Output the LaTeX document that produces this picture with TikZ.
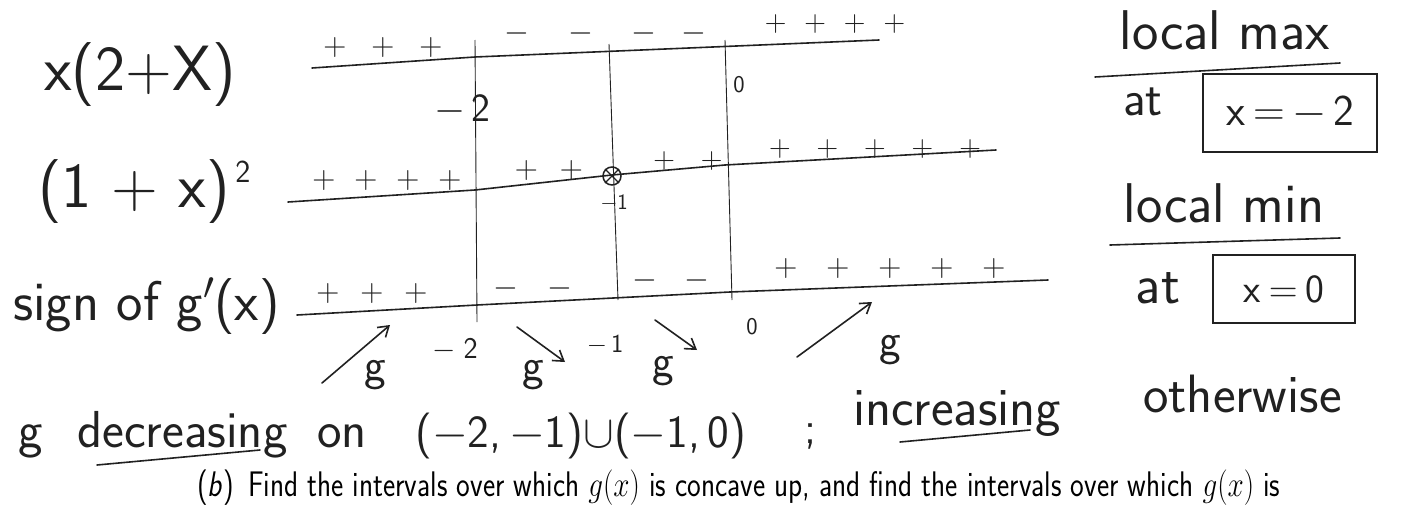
\RequirePackage{fix-cm}
\documentclass[tikz,border=0pt]{standalone}
\usepackage{fontspec}
\usepackage{graphicx}
\usetikzlibrary{arrows.meta}
\definecolor{ink}{gray}{0.13}
\newcommand\Pl{\ensuremath{{+}}}
\newcommand\Mi{\ensuremath{{-}}}
\newcommand\gp[1]{\hspace{#1pt}}
\tikzset{
  hf/.style={font=\sffamily\fontsize{#1}{#1}\selectfont, inner sep=0pt, text=ink},
  stroke/.style={draw=ink, line width=1.6pt, line cap=round, line join=round},
  rule/.style={draw=ink, line width=0.9pt},
  arr/.style={stroke, -{Straight Barb[length=10pt,width=13pt]}},
  ansbox/.style={draw=ink, line width=1.5pt, inner sep=0pt},
}
\begin{document}
\begin{tikzpicture}[x=1pt,y=-1pt]
\useasboundingbox (0,0) rectangle (1402,506);
\fill[white] (0,0) rectangle (1402,506);

% ---- row labels
\node[hf=64] (lab1) at (140,75) {x(2+X)};
\node[hf=64] (lab2) at (134,192) {(1 + x)};
\node[hf=32] (lab2s) at (243,172) {2};
\node[hf=56, anchor=base west] (lab3) at (13,320) {sign of g$'$(x)};

% ---- sign lines
\coordinate (r1a) at (312,68); \coordinate (r1m) at (475,57); \coordinate (r1b) at (879,40);
\draw[stroke] (r1a) -- (r1m) -- (r1b);
\coordinate (r2a) at (288,202); \coordinate (r2m) at (475,190); \coordinate (r2n) at (612,175);
\coordinate (r2o) at (725,165); \coordinate (r2b) at (996,150);
\draw[stroke] (r2a) -- (r2m) -- (r2n) -- (r2o) -- (r2b);
\coordinate (r3a) at (297,315); \coordinate (r3m) at (477,305); \coordinate (r3n) at (730,292); \coordinate (r3b) at (1048,280);
\draw[stroke] (r3a) -- (r3m) -- (r3n) -- (r3b);

% ---- vertical separators
\coordinate (v1t) at (475,40);  \coordinate (v1b) at (477,322);
\coordinate (v2t) at (609,44);  \coordinate (v2b) at (618,300);
\coordinate (v3t) at (725,40);  \coordinate (v3b) at (732,300);
\draw[rule] (v1t) -- (v1b);
\draw[rule] (v2t) -- (v2b);
\draw[rule] (v3t) -- (v3b);

% ---- signs row 1
\node[hf=32] (s11) at (383,48) {\Pl\gp{25}\Pl\gp{25}\Pl};
\node[hf=32] (s12) at (549,33) {\Mi\gp{40}\Mi};
\node[hf=32] (s13) at (669,33) {\Mi\gp{26}\Mi};
\node[hf=30] (s14) at (835,24) {\Pl\gp{18}\Pl\gp{18}\Pl\gp{18}\Pl};
\node[hf=40] (m2) at (462,110) {\Mi\gp{6}2};
\node[hf=24] (z1) at (739,85) {0};

% ---- signs row 2
\node[hf=32] (s21) at (387,180) {\Pl\gp{19}\Pl\gp{19}\Pl\gp{19}\Pl};
\node[hf=32] (s22) at (549,170) {\Pl\gp{22}\Pl};
\node[hf=30] (s23) at (688,161) {\Pl\gp{26}\Pl};
\node[hf=30] (s24) at (875,149) {\Pl\gp{26}\Pl\gp{26}\Pl\gp{26}\Pl\gp{26}\Pl};
\node[circle, draw=ink, line width=1.5pt, minimum size=18pt, inner sep=0pt] (crit) at (612,176) {};
\draw[draw=ink, line width=1.3pt] (crit.north west) -- (crit.south east) (crit.north east) -- (crit.south west);
\node[hf=22] (m1) at (614,203) {\Mi1};

% ---- signs row 3
\node[hf=32] (s31) at (372,293) {\Pl\gp{21}\Pl\gp{21}\Pl};
\node[hf=32] (s32) at (533,288) {\Mi\gp{30}\Mi};
\node[hf=32] (s33) at (671,280) {\Mi\gp{27}\Mi};
\node[hf=32] (s34) at (890,268) {\Pl\gp{29}\Pl\gp{29}\Pl\gp{29}\Pl\gp{29}\Pl};

% ---- behaviour of g below row 3
\node[hf=30] (b2) at (455,350) {\Mi\gp{8}2};
\node[hf=26] (b1) at (605,345) {\Mi\gp{4}1};
\node[hf=24] (b0) at (752,327) {0};
\node[hf=46] (g1) at (375,375) {g};
\node[hf=46] (g2) at (533,375) {g};
\node[hf=46] (g3) at (663,371) {g};
\node[hf=46] (g4) at (890,350) {g};
\coordinate (a1s) at (322,383); \coordinate (a1e) at (390,325);
\coordinate (a2s) at (517,327); \coordinate (a2e) at (565,362);
\coordinate (a3s) at (655,320); \coordinate (a3e) at (697,350);
\coordinate (a4s) at (797,357); \coordinate (a4e) at (872,302);
\draw[arr] (a1s) -- (a1e);
\draw[arr] (a2s) -- (a2e);
\draw[arr] (a3s) -- (a3e);
\draw[arr] (a4s) -- (a4e);

% ---- right-hand conclusions
\node[hf=56] (lmax) at (1225,30) {local max};
\coordinate (u1a) at (1095,77); \coordinate (u1b) at (1340,63);
\draw[stroke] (u1a) -- (u1b);
\node[hf=50] (at1) at (1143,102) {at};
\node[ansbox, hf=44, minimum width=174pt, minimum height=78pt] (bx1) at (1290,113) {x\gp{8}\ensuremath{{=}}\gp{8}\Mi\gp{6}2};
\node[hf=56] (lmin) at (1224,203) {local min};
\coordinate (u2a) at (1110,245); \coordinate (u2b) at (1340,238);
\draw[stroke] (u2a) -- (u2b);
\node[hf=56] (at2) at (1158,288) {at};
\node[ansbox, hf=40, minimum width=142pt, minimum height=68pt] (bx2) at (1284,289) {x\gp{8}\ensuremath{{=}}\gp{8}0};

% ---- conclusion sentence
\node[hf=52, anchor=base west] (w1) at (18,447) {g};
\node[hf=52, anchor=base west] (w2) at (77,447) {decreasing};
\coordinate (u3a) at (97,465); \coordinate (u3b) at (260,450);
\draw[stroke] (u3a) -- (u3b);
\node[hf=52, anchor=base west] (w3) at (317,447) {on};
\node[hf=46, anchor=base west] (w4) at (415,447) {(\Mi2,\,\Mi1)\ensuremath{\cup}(\Mi1,\,0)};
\node[hf=46] (w5) at (810,436) {;};
\node[hf=54, anchor=base west] (w6) at (853,425) {increasing};
\coordinate (u4a) at (900,442); \coordinate (u4b) at (1030,430);
\draw[stroke] (u4a) -- (u4b);
\node[hf=54, anchor=base west] (w7) at (1143,412) {otherwise};

% ---- printed question line
\node[font=\sffamily\fontsize{30}{30}\selectfont, inner sep=0pt, anchor=base west, text=black] (q) at (197,496)
  {\scalebox{1}[1.22]{\resizebox{1083pt}{!}{(\textit{b})\enspace Find the intervals over which $g(x)$ is concave up, and find the intervals over which $g(x)$ is}}};
\end{tikzpicture}
\end{document}
